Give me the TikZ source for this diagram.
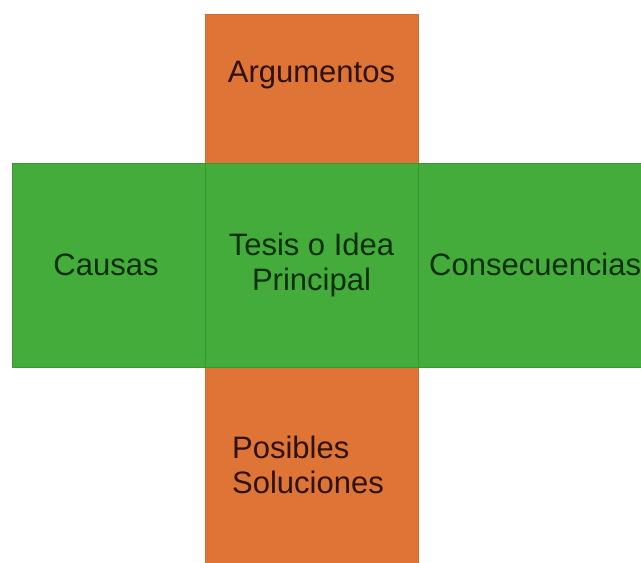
\documentclass[tikz,border=0pt]{standalone}
\usepackage{fontspec}
\setmainfont{Liberation Sans}
\definecolor{orangebox}{HTML}{DE7536}
\definecolor{orangeline}{HTML}{D06A2E}
\definecolor{greenbox}{HTML}{43AC3A}
\definecolor{greenline}{HTML}{3A9532}
\definecolor{orangetext}{HTML}{2E1206}
\definecolor{greentext}{HTML}{0E2E0C}
\begin{document}
\begin{tikzpicture}[x=1pt,y=-1pt,
  orangecell/.style={rectangle,fill=orangebox,draw=orangeline,line width=0.6pt,inner sep=0pt},
  greencell/.style={rectangle,fill=greenbox,draw=greenline,line width=0.8pt,inner sep=0pt},
  lbl/.style={font=\fontsize{31}{35}\selectfont,inner sep=0pt}]
\useasboundingbox (0,0) rectangle (641,563);
\clip (0,0) rectangle (641,563);
\fill[white] (0,0) rectangle (641,563);
\node[orangecell,minimum width=213pt,minimum height=149pt] (top) at (311.5,88.5) {};
\node[orangecell,minimum width=213pt,minimum height=210pt] (bottom) at (311.5,472) {};
\node[greencell,minimum width=193pt,minimum height=204pt] (left) at (108.5,265) {};
\node[greencell,minimum width=250pt,minimum height=204pt] (right) at (543,265) {};
\node[greencell,minimum width=213pt,minimum height=204pt] (center) at (311.5,265) {};
\node[lbl,text=orangetext] (arg) at (311.5,75) {Argumentos};
\node[lbl,text=greentext] (causas) at (106,265) {Causas};
\node[lbl,text=greentext,align=center] (tesis) at (311.5,264.5) {Tesis o Idea\\Principal};
\node[lbl,text=greentext,anchor=west] (cons) at (429,264) {Consecuencias};
\node[lbl,text=orangetext,align=left,anchor=west] (sol) at (232,465) {Posibles\\Soluciones};
\end{tikzpicture}
\end{document}
